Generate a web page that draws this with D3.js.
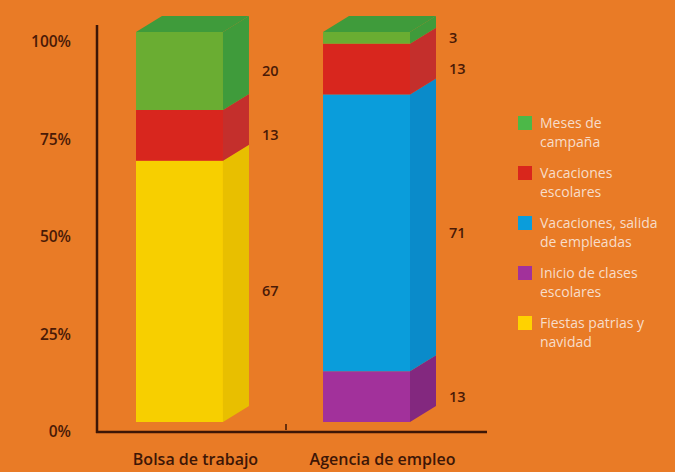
<!DOCTYPE html>
<html>
<head>
<meta charset="utf-8">
<script src="https://cdn.jsdelivr.net/npm/d3@7"></script>
<style>
  html, body { margin: 0; padding: 0; background: #e97b26; }
  svg { display: block; }
</style>
</head>
<body>
<div id="chart"></div>
<script>
const width = 675;
const height = 472;

// data
const categories = ["Bolsa de trabajo", "Agencia de empleo"];
const seriesNames = ["Meses de campaña", "Vacaciones escolares", "Vacaciones, salida de empleadas", "Inicio de clases escolares", "Fiestas patrias y navidad"];
const mesesCampana = [20, 3];
const vacacionesEscolares = [13, 13];
const vacacionesSalida = [0, 71];
const inicioClases = [0, 13];
const fiestasPatrias = [67, 0];
const yTicks = [0, 25, 50, 75, 100];
const yTickLabels = ["0%", "25%", "50%", "75%", "100%"];

// legend order (top to bottom) and stack order (bottom to top)
const legendLines = [
  ["Meses de", "campaña"],
  ["Vacaciones", "escolares"],
  ["Vacaciones, salida", "de empleadas"],
  ["Inicio de clases", "escolares"],
  ["Fiestas patrias y", "navidad"]
];
const seriesValues = [mesesCampana, vacacionesEscolares, vacacionesSalida, inicioClases, fiestasPatrias];
const front = ["#6aad32", "#d8261e", "#0a9ddb", "#a2319b", "#f7cf00"];
const side = ["#3f9b3b", "#c42f2c", "#0a8bca", "#83287f", "#e8bf00"];
const legendColors = ["#4cb848", "#d9261c", "#0a9ddb", "#a2319b", "#ffd200"];

const dark = "#3d1606";
const font = "'Open Sans', sans-serif";
const depthX = 26, depthY = -16;

const svg = d3.select("#chart")
  .append("svg")
  .attr("width", width)
  .attr("height", height);

const x = d3.scaleBand()
  .domain(categories)
  .range([136, 410])
  .paddingInner(0.535)
  .paddingOuter(0);

const y = d3.scaleLinear()
  .domain([0, 100])
  .range([422, 32]);

const bw = x.bandwidth();

// stacked rows, bottom first
const rows = categories.map((c, i) => {
  const r = { cat: c };
  seriesNames.forEach((s, j) => r[s] = seriesValues[j][i]);
  return r;
});
const stackOrder = seriesNames.slice().reverse();
const stack = d3.stack().keys(stackOrder)(rows);

// y tick labels
svg.append("g")
  .selectAll("text")
  .data(yTicks)
  .join("text")
  .attr("x", 71)
  .attr("y", d => y(d) + 10)
  .attr("dy", "0.35em")
  .attr("text-anchor", "end")
  .attr("font-family", font)
  .attr("font-weight", 600)
  .attr("font-size", 15.5)
  .attr("fill", "#4a1a06")
  .text((d, i) => yTickLabels[i]);

// axes lines
svg.append("line")
  .attr("x1", 97).attr("x2", 97)
  .attr("y1", 25).attr("y2", 433)
  .attr("stroke", dark).attr("stroke-width", 2.5);
svg.append("line")
  .attr("x1", 96).attr("x2", 487)
  .attr("y1", 432).attr("y2", 432)
  .attr("stroke", dark).attr("stroke-width", 2.5);

// small tick between categories
const midTick = (x(categories[0]) + bw + depthX + x(categories[1])) / 2;
svg.append("line")
  .attr("x1", midTick).attr("x2", midTick)
  .attr("y1", 424).attr("y2", 430)
  .attr("stroke", dark).attr("stroke-width", 1.5);

// bars
const bars = svg.append("g");
stack.forEach(layer => {
  const si = seriesNames.indexOf(layer.key);
  layer.forEach(d => {
    if (d[1] - d[0] <= 0) return;
    const x0 = x(d.data.cat);
    const yt = y(d[1]), yb = y(d[0]);
    bars.append("rect")
      .attr("x", x0).attr("y", yt)
      .attr("width", bw).attr("height", yb - yt)
      .attr("fill", front[si]);
    bars.append("path")
      .attr("d", `M${x0 + bw},${yt}L${x0 + bw + depthX},${yt + depthY}L${x0 + bw + depthX},${yb + depthY}L${x0 + bw},${yb}Z`)
      .attr("fill", side[si]);
  });
});

// top faces
categories.forEach((c, i) => {
  const last = stack.slice().reverse().find(l => l[i][1] - l[i][0] > 0);
  const si = seriesNames.indexOf(last.key);
  const x0 = x(c), yt = y(last[i][1]);
  bars.append("path")
    .attr("d", `M${x0},${yt}L${x0 + depthX},${yt + depthY}L${x0 + bw + depthX},${yt + depthY}L${x0 + bw},${yt}Z`)
    .attr("fill", side[si]);
});

// value labels
stack.forEach(layer => {
  layer.forEach(d => {
    const v = d[1] - d[0];
    if (v <= 0) return;
    svg.append("text")
      .attr("x", x(d.data.cat) + bw + depthX + 13)
      .attr("y", y((d[0] + d[1]) / 2))
      .attr("dy", "0.35em")
      .attr("font-family", font)
      .attr("font-weight", 600)
      .attr("font-size", 14.5)
      .attr("fill", "#4a1a06")
      .text(v);
  });
});

// category labels
svg.append("g")
  .selectAll("text")
  .data(categories)
  .join("text")
  .attr("x", d => x(d) + (bw + depthX) / 2 + 3)
  .attr("y", 465)
  .attr("text-anchor", "middle")
  .attr("font-family", font)
  .attr("font-weight", 600)
  .attr("font-size", 16)
  .attr("fill", "#3d1606")
  .text(d => d);

// legend
const legend = svg.append("g");
legendLines.forEach((lines, i) => {
  const cy = 123 + i * 50;
  legend.append("rect")
    .attr("x", 518).attr("y", cy - 7)
    .attr("width", 14).attr("height", 14)
    .attr("fill", legendColors[i]);
  lines.forEach((t, k) => {
    legend.append("text")
      .attr("x", 540)
      .attr("y", cy + k * 19)
      .attr("dy", "0.35em")
      .attr("font-family", font)
      .attr("font-size", 14)
      .attr("fill", "#f7ddca")
      .text(t);
  });
});
</script>
</body>
</html>
